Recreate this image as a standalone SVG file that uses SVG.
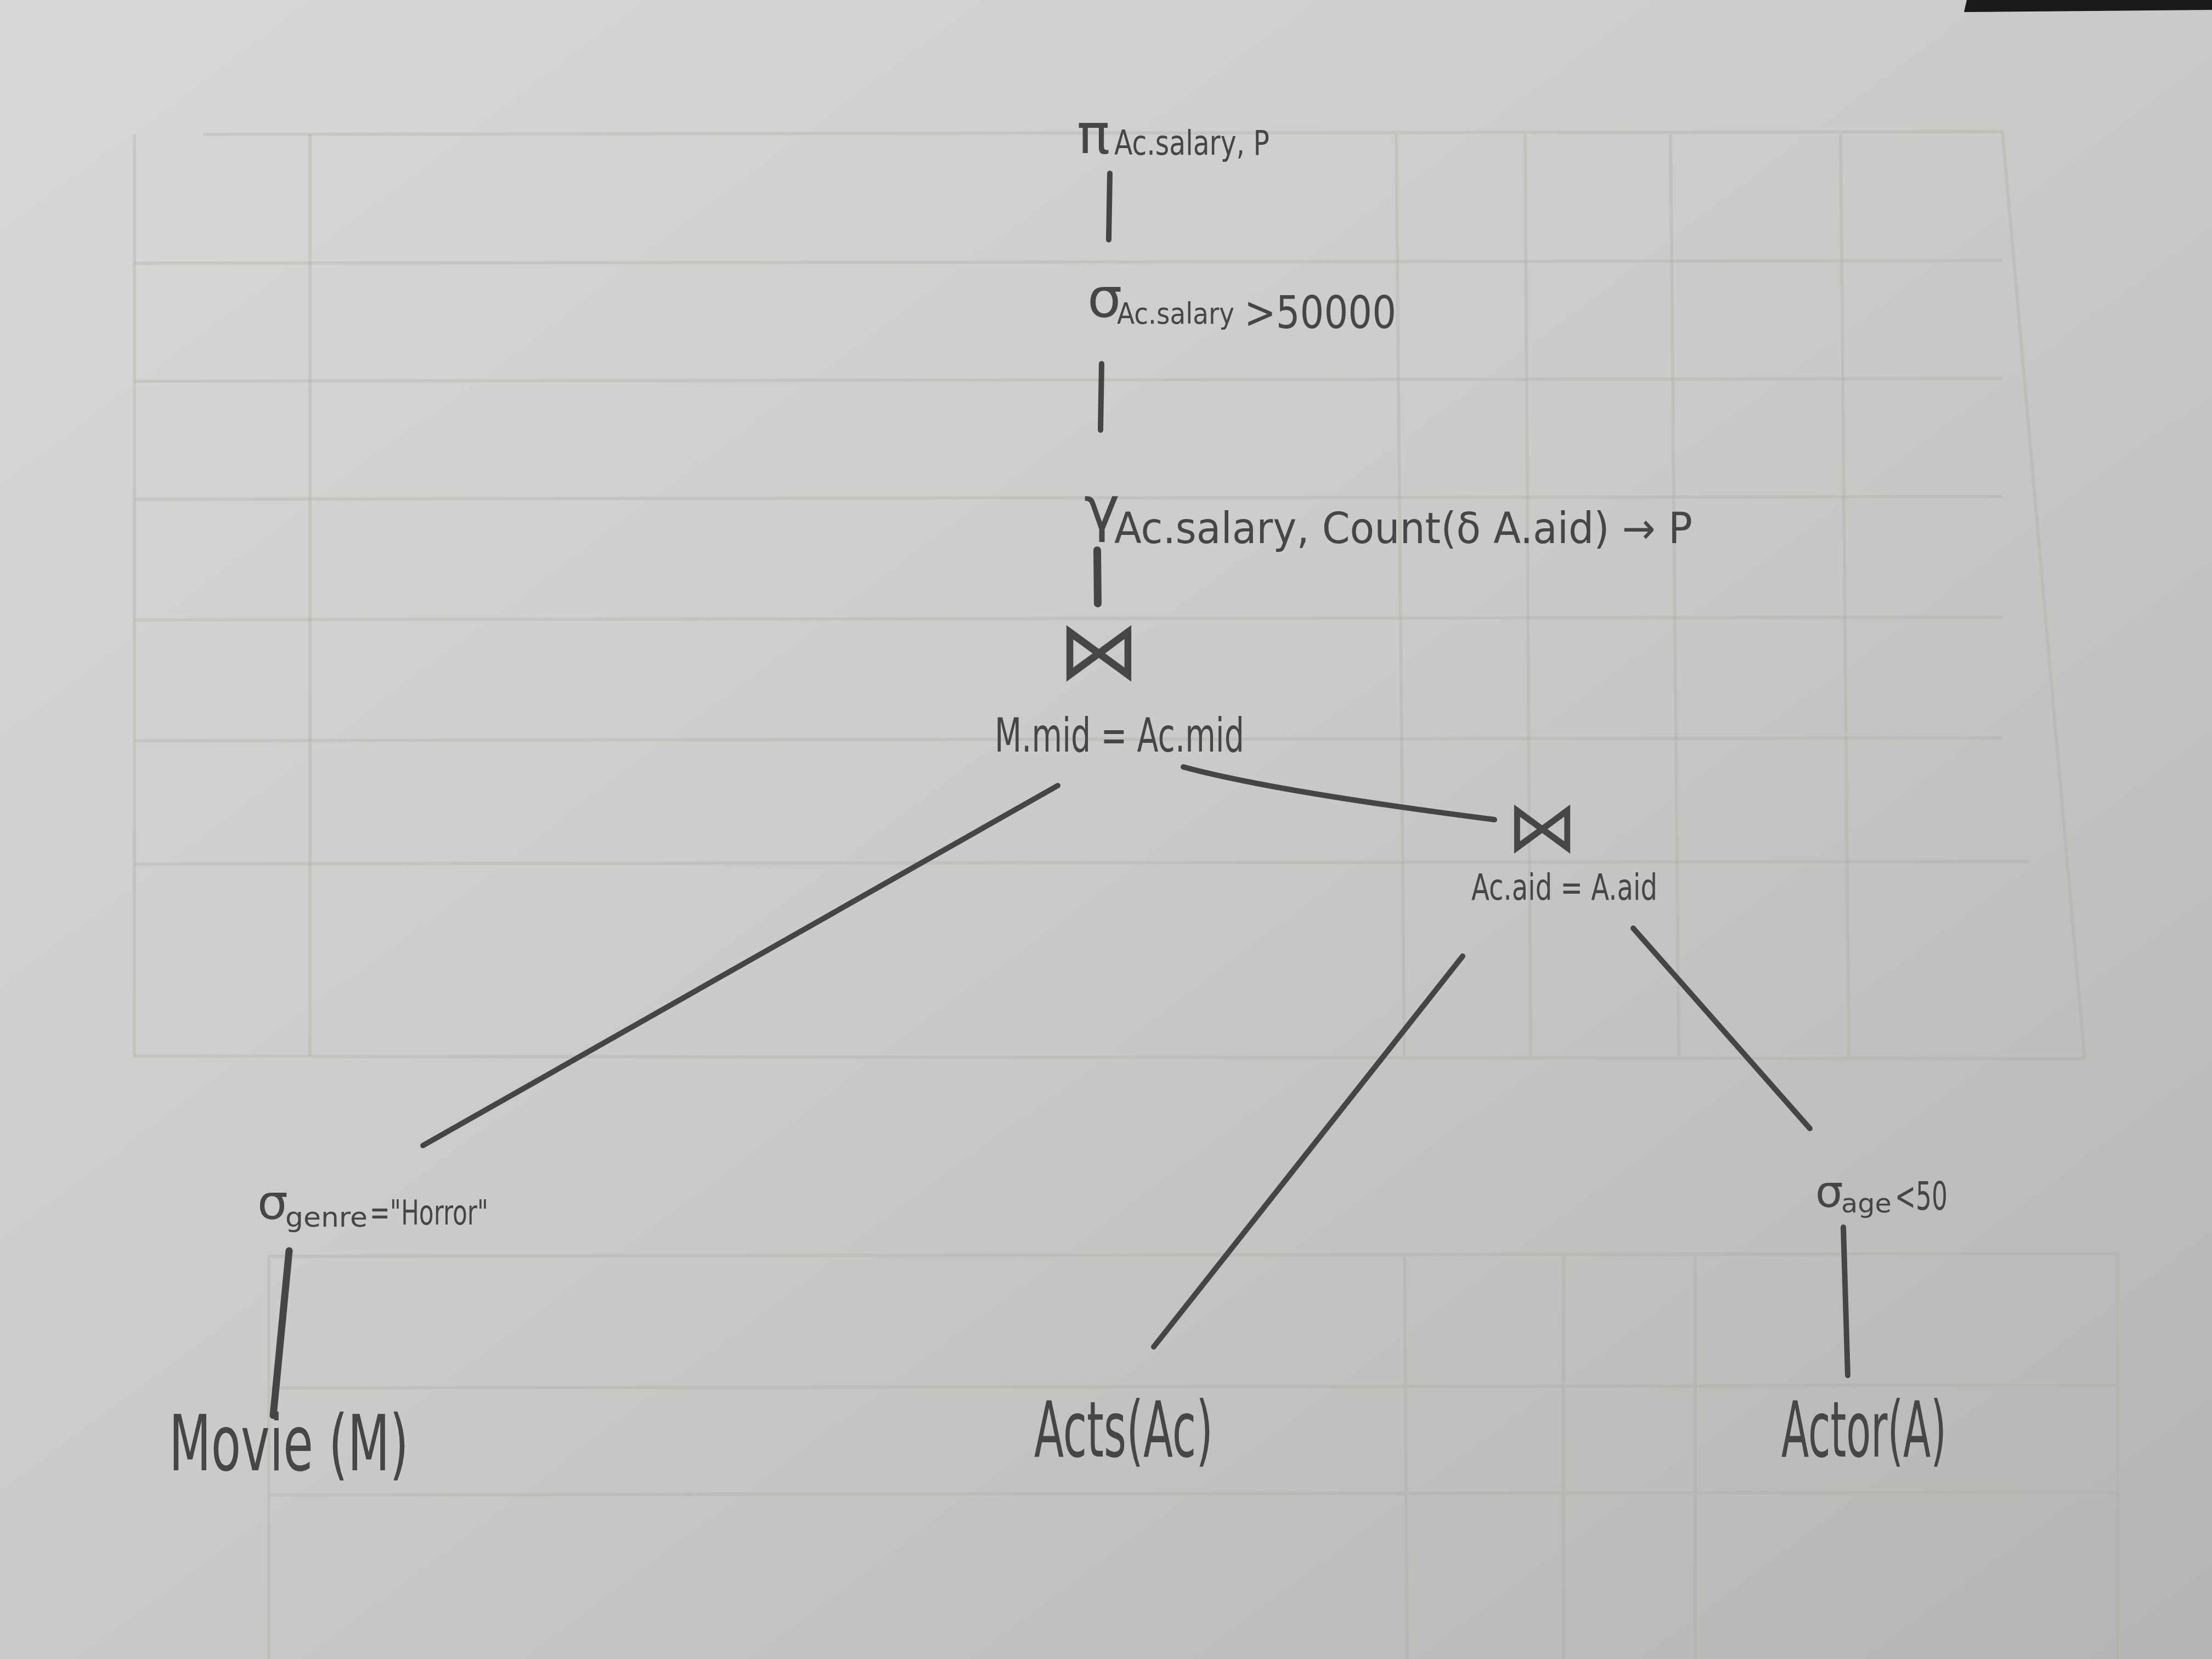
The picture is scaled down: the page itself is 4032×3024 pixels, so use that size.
<svg xmlns="http://www.w3.org/2000/svg" width="4032" height="3024" viewBox="0 0 4032 3024">
<defs>
<linearGradient id="paper" x1="0" y1="0" x2="1" y2="1">
<stop offset="0" stop-color="#d8d8d6"/>
<stop offset="0.5" stop-color="#cacac8"/>
<stop offset="1" stop-color="#b5b5b3"/>
</linearGradient>
<style>
.t{font-family:"DejaVu Sans","Liberation Sans",sans-serif;fill:#464646;}
.e{fill:none;stroke:#454545;stroke-width:10;stroke-linecap:round;}
.g{fill:none;stroke:#a9a9a7;stroke-width:6;opacity:0.3;}
</style>
</defs>
<rect x="0" y="0" width="4032" height="3024" fill="url(#paper)"/>
<polygon points="3585,0 4032,0 4032,18 3580,22" fill="#1a1a1a"/>
<g id="bleed-through">
<path class="g" d="M370 245 L3650 240 M245 480 L3650 475 M245 695 L3650 690 M245 910 L3650 905 M245 1130 L3650 1125 M245 1350 L3650 1345 M245 1575 L3700 1570 M245 1925 L3800 1930"/>
<path class="g" d="M245 245 L245 1925 M565 245 L565 1925 M2545 245 L2560 1925 M2780 245 L2790 1925 M3045 245 L3060 1925 M3355 245 L3370 1925 M3650 240 L3800 1930"/>
<path class="g" d="M490 2290 L3860 2285 M490 2530 L3860 2525 M490 2725 L3860 2720 M490 2290 L490 3024 M2560 2290 L2565 3024 M2850 2290 L2850 3024 M3090 2290 L3090 3024 M3860 2285 L3860 3024"/>
</g>
<g id="connectors">
<path class="e" d="M2023 316 L2021 437"/>
<path class="e" d="M2008 663 L2006 784"/>
<path class="e" style="stroke-width:14" d="M2000 1003 L2001 1100"/>
<path class="e" d="M1928 1432 L771 2088"/>
<path class="e" d="M2157 1398 Q2319 1442 2724 1494"/>
<path class="e" d="M2666 1743 L2103 2455"/>
<path class="e" d="M2977 1692 L3299 2057"/>
<path class="e" d="M3360 2237 L3368 2507"/>
<path class="e" style="stroke-width:13" d="M527 2280 L498 2580"/>
</g>
<g id="projection">
<text class="t" x="1963" y="280" font-size="100">π</text>
<text class="t" x="2031" y="282" font-size="62" textLength="283" lengthAdjust="spacingAndGlyphs">Ac.salary, P</text>
</g>
<g id="selection-salary">
<text class="t" x="1982" y="578" font-size="100">σ</text>
<text class="t" x="2036" y="590" font-size="54" textLength="214" lengthAdjust="spacingAndGlyphs">Ac.salary</text>
<text class="t" x="2268" y="598" font-size="82" textLength="277" lengthAdjust="spacingAndGlyphs">&gt;50000</text>
</g>
<g id="grouping">
<text class="t" x="1976" y="965" font-size="110">γ</text>
<text class="t" x="2031" y="990" font-size="78" textLength="1054" lengthAdjust="spacingAndGlyphs">Ac.salary, Count(δ A.aid) → P</text>
</g>
<g id="join-mid">
<text class="t" x="2003" y="1238" font-size="150" text-anchor="middle">⋈</text>
<text class="t" x="1813" y="1370" font-size="85" textLength="455" lengthAdjust="spacingAndGlyphs">M.mid = Ac.mid</text>
</g>
<g id="join-aid">
<text class="t" x="2811" y="1552" font-size="130" text-anchor="middle">⋈</text>
<text class="t" x="2682" y="1640" font-size="66" textLength="339" lengthAdjust="spacingAndGlyphs">Ac.aid = A.aid</text>
</g>
<g id="selection-genre">
<text class="t" x="469" y="2222" font-size="88">σ</text>
<text class="t" x="520" y="2236" font-size="50" textLength="150" lengthAdjust="spacingAndGlyphs">genre</text>
<text class="t" x="674" y="2232" font-size="62" textLength="216" lengthAdjust="spacingAndGlyphs">="Horror"</text>
</g>
<g id="selection-age">
<text class="t" x="3309" y="2200" font-size="80">σ</text>
<text class="t" x="3356" y="2210" font-size="48" textLength="92" lengthAdjust="spacingAndGlyphs">age</text>
<text class="t" x="3454" y="2205" font-size="72" textLength="96" lengthAdjust="spacingAndGlyphs">&lt;50</text>
</g>
<g id="movie">
<text class="t" x="308" y="2680" font-size="140" textLength="437" lengthAdjust="spacingAndGlyphs">Movie (M)</text>
</g>
<g id="acts">
<text class="t" x="1885" y="2655" font-size="140" textLength="326" lengthAdjust="spacingAndGlyphs">Acts(Ac)</text>
</g>
<g id="actor">
<text class="t" x="3247" y="2655" font-size="140" textLength="301" lengthAdjust="spacingAndGlyphs">Actor(A)</text>
</g>
</svg>
